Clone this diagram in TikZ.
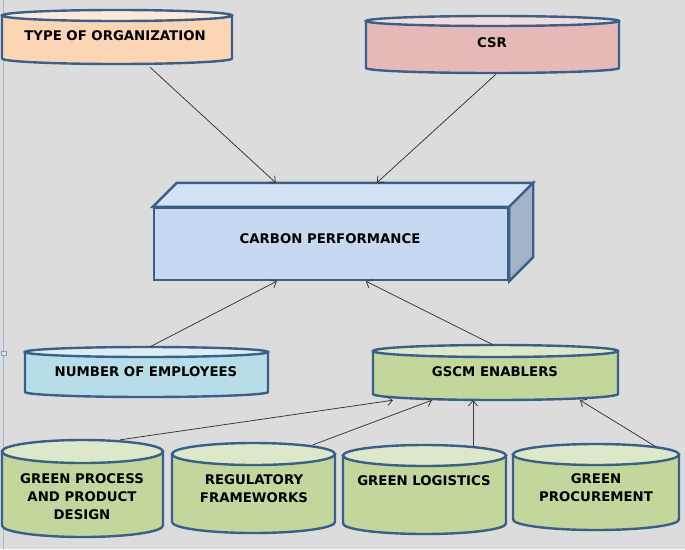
\documentclass[tikz,border=0pt]{standalone}
\usepackage{fontspec}
\setsansfont{DejaVu Sans}
\usetikzlibrary{arrows.meta}

\definecolor{edgeblue}{HTML}{3A5F8B}
\definecolor{linkgray}{HTML}{3C3C3C}
\definecolor{paper}{HTML}{DCDCDC}
\definecolor{peach}{HTML}{FCD5B5}
\definecolor{peachtop}{HTML}{FDE9D9}
\definecolor{rose}{HTML}{E6B9B8}
\definecolor{rosetop}{HTML}{F2DCDB}
\definecolor{sky}{HTML}{B7DEE8}
\definecolor{skytop}{HTML}{DBEEF4}
\definecolor{olive}{HTML}{C3D69B}
\definecolor{olivetop}{HTML}{DDE8C8}
\definecolor{boxfront}{HTML}{C6D9F1}
\definecolor{boxtop}{HTML}{D3E2F5}
\definecolor{boxside}{HTML}{A2B2C9}

\tikzset{
  drum/.style={draw=edgeblue, line width=2.4pt},
  lbl/.style={font=\sffamily\bfseries\fontsize{13.3}{18}\selectfont, align=center, inner sep=0pt},
  link/.style={-{Straight Barb[length=5pt,width=9pt]}, draw=linkgray, line width=0.8pt},
}

% name, left x, right x, top centre y, bottom centre y, y radius, colour
\newcommand{\drum}[7]{%
  \filldraw[drum, fill=#7] (#2,#4) -- (#2,#5)
    arc[start angle=180, end angle=360, x radius={((#3)-(#2))/2}, y radius=#6] -- (#3,#4) -- cycle;
  \filldraw[drum, fill=#7top] ({((#2)+(#3))/2},#4) ellipse [x radius={((#3)-(#2))/2}, y radius=#6];
  \node[inner sep=0pt, minimum width={(#3)-(#2)}, minimum height={(#4)-(#5)+2*(#6)}]
    (#1) at ({((#2)+(#3))/2},{((#4)+(#5))/2}) {};
}

\begin{document}
\begin{tikzpicture}[x=1pt,y=1pt]
    \fill[paper] (0,0) rectangle (685,-549);
    \useasboundingbox (0,0) rectangle (685,-549);
    \draw[color=edgeblue!45, line width=1.2pt] (3.5,0) -- (3.5,-549);
    \filldraw[draw=edgeblue!60, fill=white!85!edgeblue, line width=0.6pt] (1.5,-351) rectangle (6,-355.5);

    % upper drums
    \drum{type}{2}{232}{-15.5}{-58.5}{5.5}{peach}
    \node[lbl] (typetxt) at (115,-36) {TYPE OF ORGANIZATION};
    \drum{csr}{366}{619}{-21}{-68}{5}{rose}
    \node[lbl] (csrtxt) at (492,-43) {CSR};

    % carbon box
    \node[draw=edgeblue, line width=2.4pt, fill=boxfront, minimum width=354pt, minimum height=72pt] (carbon) at (331,-244) {};
    \coordinate (back) at ([shift={(24,24)}]carbon.north west);
    \filldraw[drum, fill=boxtop] (carbon.north west) -- (back) -- ([shift={(24,24)}]carbon.north east) -- (carbon.north east) -- cycle;
    \filldraw[drum, fill=boxside] (carbon.north east) -- ([shift={(24,24)}]carbon.north east) -- ([shift={(24,24)}]carbon.south east) -- (carbon.south east) -- cycle;
    \node[lbl] (carbontxt) at (330,-238.5) {CARBON PERFORMANCE};

    % middle drums
    \drum{number}{25}{268}{-352}{-392}{5}{sky}
    \node[lbl] (numbertxt) at (146,-372) {NUMBER OF EMPLOYEES};
    \drum{gscm}{373}{618}{-351}{-394}{6}{olive}
    \node[lbl] (gscmtxt) at (495,-372) {GSCM ENABLERS};

    % enabler drums
    \drum{gppd}{2}{163}{-451.5}{-525.5}{11.5}{olive}
    \node[lbl] (gppdtxt) at (82,-497) {GREEN PROCESS\\AND PRODUCT\\DESIGN};
    \drum{reg}{172}{335}{-454}{-522}{11}{olive}
    \node[lbl] (regtxt) at (254,-489) {REGULATORY\\FRAMEWORKS};
    \drum{logi}{343}{506}{-455.5}{-523.5}{10.5}{olive}
    \node[lbl] (logitxt) at (424,-481) {GREEN LOGISTICS};
    \drum{proc}{513}{679}{-454.5}{-519.5}{10.5}{olive}
    \node[lbl] (proctxt) at (596,-488) {GREEN\\PROCUREMENT};

    % arrows
    \draw[link] ([shift={(33,-3)}]type.south) -- ([xshift=99]back);
    \draw[link] ([shift={(3.5,-1)}]csr.south) -- ([xshift=200]back);
    \draw[link] ([xshift=3.5]number.north) -- ([xshift=124]carbon.south west);
    \draw[link] ([xshift=-2.5]gscm.north) -- ([xshift=213]carbon.south west);
    \draw[link] ([xshift=37.5]gppd.north) -- ([xshift=-102.5]gscm.south);
    \draw[link] ([shift={(59.5,-2)}]reg.north) -- ([xshift=-63.5]gscm.south);
    \draw[link] ([shift={(48.5,-2)}]logi.north) -- ([xshift=-22.5]gscm.south);
    \draw[link] ([shift={(60,-3)}]proc.north) -- ([xshift=84.5]gscm.south);
\end{tikzpicture}
\end{document}
